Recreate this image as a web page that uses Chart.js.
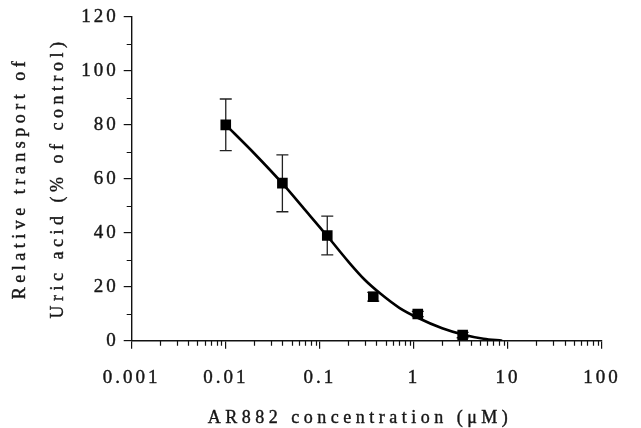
<!DOCTYPE html>
<html>
<head>
<meta charset="utf-8">
<script src="https://cdn.jsdelivr.net/npm/chart.js@4/dist/chart.umd.min.js"></script>
<style>
  html, body { margin: 0; padding: 0; background: #fff; }
  #wrap { width: 641px; height: 428px; }
</style>
</head>
<body>
<div id="wrap"><canvas id="uaChart" width="641" height="428"></canvas></div>
<script>
// measured points (mean with error bars)
var conc = [0.01, 0.04, 0.12, 0.37, 1.1, 3.3];
var transport = [80, 58.4, 39, 16.3, 9.9, 2.1];
var err_up = [9.6, 10.5, 7.2, 1.6, 1, 1];
var err_down = [9.5, 10.6, 7.2, 1.6, 1, 1];

// fitted curve
var fit_x = [0.01, 0.02, 0.04, 0.07, 0.12, 0.2, 0.3, 0.45, 0.7, 1.1, 2, 3.3, 5.5, 8.7];
var fit_y = [80, 69.5, 58.3, 48.4, 38.8, 29.4, 22.6, 17.2, 12.2, 8.5, 4.6, 2.3, 0.7, 0];

var x_ticks = [0.001, 0.01, 0.1, 1, 10, 100];
var x_labels = ["0.001", "0.01", "0.1", "1", "10", "100"];
var x_minor_steps = [2, 3, 4, 5, 6, 7, 8, 9];
var y_ticks = [0, 20, 40, 60, 80, 100, 120];
var y_minor = [10, 30, 50, 70, 90, 110];
var x_title = "AR882 concentration (\u03bcM)";
var y_title = ["Relative transport of", "Uric acid (% of control)"];

var txt_col = '#161616';
var serif = '"Liberation Serif", "DejaVu Serif", serif';

var pts = [];
var i = 0;
while (i < conc.length) {
    pts.push({"x": conc[i], "y": transport[i]});
    i = i + 1;
}
var curve = [];
i = 0;
while (i < fit_x.length) {
    curve.push({"x": fit_x[i], "y": fit_y[i]});
    i = i + 1;
}
var x_minor = [];
for (var d = 0; d < x_ticks.length - 1; d++) {
    for (var k = 0; k < x_minor_steps.length; k++) {
        x_minor.push(x_ticks[d] * x_minor_steps[k]);
    }
}

function spaced_text(ctx, s, x, y) {
    ctx.fillText(s, x, y);
    ctx.strokeText(s, x, y);
}

var decor = {
    id: 'decor',
    beforeDraw: function (chart) {
        chart.ctx.letterSpacing = '3px';
    },
    beforeDatasetsDraw: function (chart) {
        var ctx = chart.ctx;
        var xs = chart.scales.x, ys = chart.scales.y;
        ctx.save();
        ctx.letterSpacing = '0px';
        ctx.strokeStyle = '#222';
        ctx.lineWidth = 1.3;
        // error bars
        for (var n = 0; n < conc.length; n++) {
            var px = xs.getPixelForValue(conc[n]);
            var top = ys.getPixelForValue(transport[n] + err_up[n]);
            var bot = ys.getPixelForValue(transport[n] - err_down[n]);
            ctx.beginPath();
            ctx.moveTo(px, top); ctx.lineTo(px, bot);
            ctx.moveTo(px - 6, top); ctx.lineTo(px + 6, top);
            ctx.moveTo(px - 6, bot); ctx.lineTo(px + 6, bot);
            ctx.stroke();
        }
        // minor tick marks
        ctx.strokeStyle = '#111';
        ctx.lineWidth = 1.2;
        ctx.beginPath();
        for (var m = 0; m < y_minor.length; m++) {
            var py = Math.round(ys.getPixelForValue(y_minor[m])) + 0.5;
            ctx.moveTo(ys.right - 5, py); ctx.lineTo(ys.right, py);
        }
        for (var q = 0; q < x_minor.length; q++) {
            var qx = Math.round(xs.getPixelForValue(x_minor[q])) + 0.5;
            ctx.moveTo(qx, xs.top); ctx.lineTo(qx, xs.top + 5);
        }
        ctx.stroke();
        ctx.restore();
    },
    afterDraw: function (chart) {
        var ctx = chart.ctx;
        ctx.save();
        ctx.fillStyle = txt_col;
        ctx.strokeStyle = txt_col;
        ctx.lineWidth = 0.4;
        ctx.font = '18px ' + serif;
        ctx.letterSpacing = '4.5px';
        ctx.textAlign = 'center';
        ctx.textBaseline = 'middle';
        spaced_text(ctx, x_title, 360, 418);
        ctx.translate(20, 178);
        ctx.rotate(-Math.PI / 2);
        spaced_text(ctx, y_title[0], 0, 0);
        ctx.rotate(Math.PI / 2);
        ctx.translate(38, 0);
        ctx.rotate(-Math.PI / 2);
        spaced_text(ctx, y_title[1], 0, 0);
        ctx.restore();
    }
};

var ctx = document.getElementById("uaChart").getContext('2d');
window.ua_chart = new Chart(ctx, {
    data: {
        datasets: [
            {
                type: 'scatter',
                label: "Mean",
                data: pts,
                pointStyle: 'rect',
                pointRadius: 7.5,
                pointBackgroundColor: '#000',
                pointBorderColor: '#000',
                pointBorderWidth: 0,
                showLine: false,
                order: 0
            },
            {
                type: 'line',
                label: "Fit",
                data: curve,
                borderColor: '#000',
                borderWidth: 2.6,
                pointRadius: 0,
                cubicInterpolationMode: 'monotone',
                fill: false,
                order: 1
            }
        ]
    },
    options: {
        responsive: false,
        animation: false,
        devicePixelRatio: 1,
        layout: { padding: { left: 0, top: 17, right: 39, bottom: 0 } },
        plugins: {
            legend: { display: false },
            tooltip: { enabled: false },
            title: { display: false }
        },
        scales: {
            x: {
                type: 'logarithmic',
                min: 0.001,
                max: 100,
                afterBuildTicks: function (scale) {
                    scale.ticks = x_ticks.map(function (v) { return {value: v, major: true}; });
                },
                afterFit: function (scale) { scale.height = 87.3; },
                ticks: {
                    autoSkip: false,
                    maxRotation: 0,
                    padding: 18,
                    color: txt_col,
                    textStrokeColor: txt_col,
                    textStrokeWidth: 0.4,
                    font: { family: serif, size: 19 },
                    callback: function (v) {
                        var idx = x_ticks.indexOf(v);
                        return idx >= 0 ? x_labels[idx] : '';
                    }
                },
                grid: { display: true, drawOnChartArea: false, drawTicks: true, tickLength: 8, color: '#111', lineWidth: 1.2 },
                border: { display: true, color: '#111', width: 1.4 }
            },
            y: {
                type: 'linear',
                min: 0,
                max: 120,
                afterBuildTicks: function (scale) {
                    scale.ticks = y_ticks.map(function (v) { return {value: v}; });
                },
                afterFit: function (scale) { scale.width = 131.7; },
                ticks: {
                    padding: 5,
                    color: txt_col,
                    textStrokeColor: txt_col,
                    textStrokeWidth: 0.4,
                    font: { family: serif, size: 19 }
                },
                grid: { display: true, drawOnChartArea: false, drawTicks: true, tickLength: 8, color: '#111', lineWidth: 1.2 },
                border: { display: true, color: '#111', width: 1.4 }
            }
        }
    },
    plugins: [decor]
});
</script>
</body>
</html>
